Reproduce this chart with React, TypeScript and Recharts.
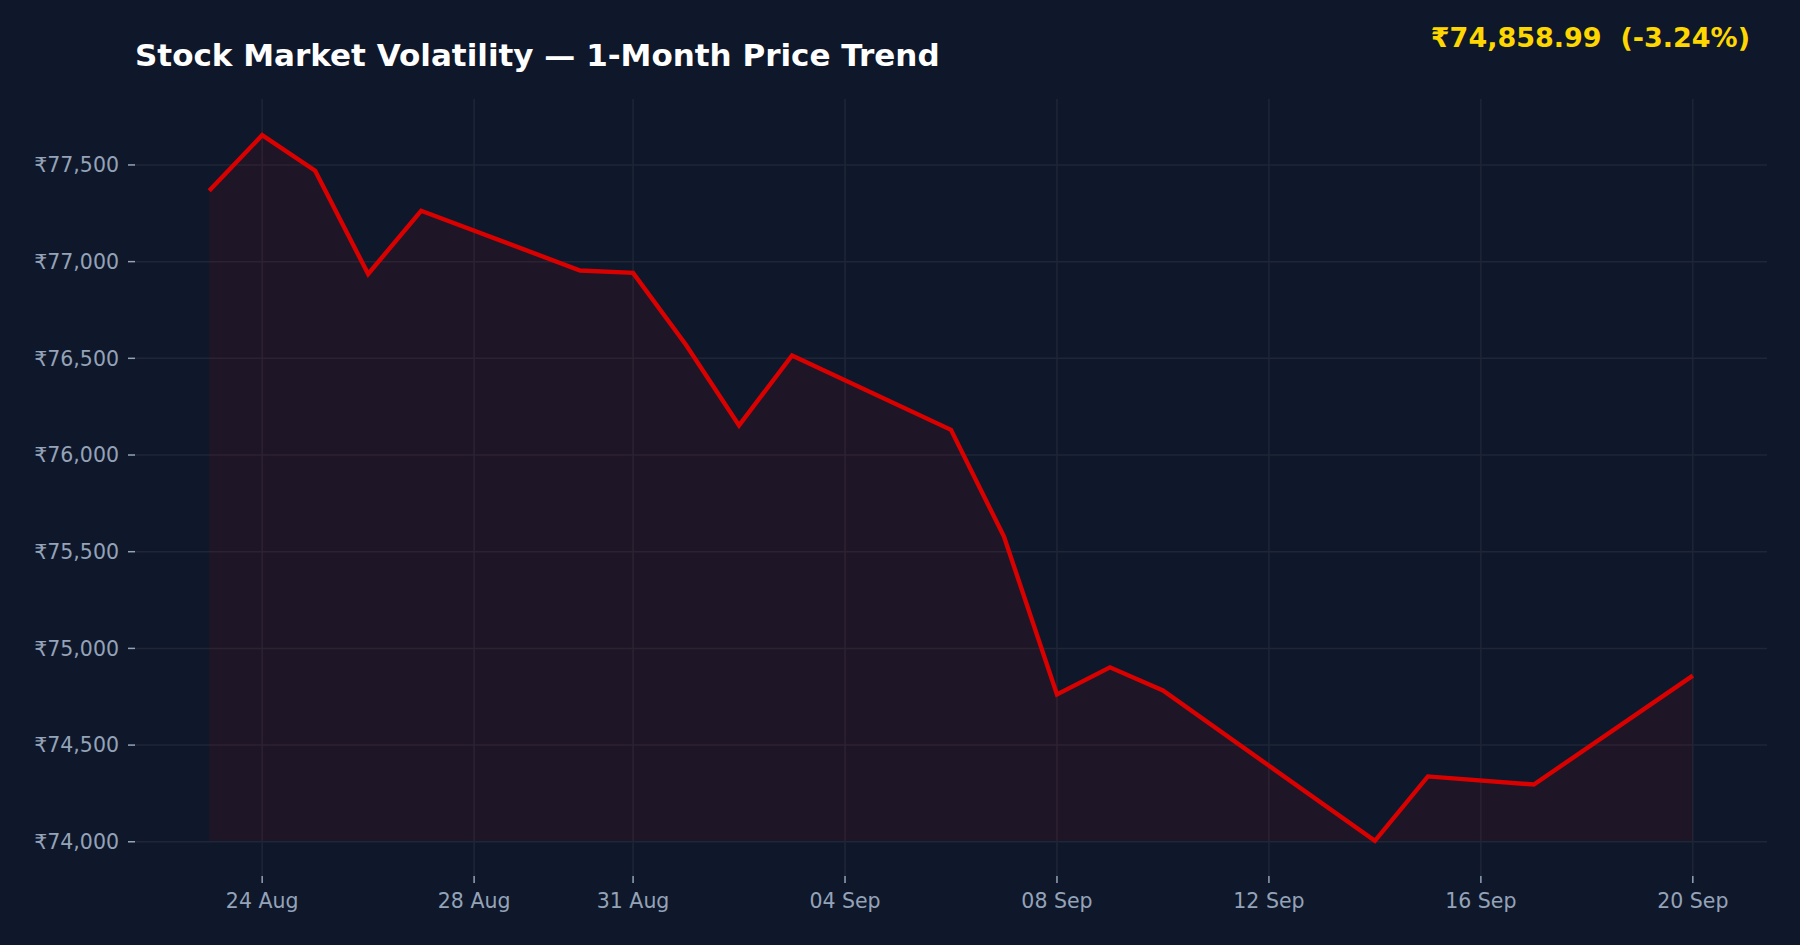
import React from "react";
import { ComposedChart, Area, XAxis, YAxis, CartesianGrid } from "recharts";

// daily closes, day offset counted from 23 Aug
const dates = [
  "23 Aug", "24 Aug", "25 Aug", "26 Aug", "27 Aug", "30 Aug", "31 Aug",
  "01 Sep", "02 Sep", "03 Sep", "06 Sep", "07 Sep", "08 Sep", "09 Sep",
  "10 Sep", "14 Sep", "15 Sep", "17 Sep", "20 Sep",
];
const dayOffsets = [0, 1, 2, 3, 4, 7, 8, 9, 10, 11, 14, 15, 16, 17, 18, 22, 23, 25, 28];
const prices = [
  77366, 77654, 77470, 76936, 77263, 76954, 76942,
  76569, 76153, 76515, 76130, 75578, 74762, 74902,
  74782, 74005, 74338, 74296, 74858.99,
];

const xTickDays = [1, 5, 8, 12, 16, 20, 24, 28];
const xTickLabels = ["24 Aug", "28 Aug", "31 Aug", "04 Sep", "08 Sep", "12 Sep", "16 Sep", "20 Sep"];
const yTicks = [74000, 74500, 75000, 75500, 76000, 76500, 77000, 77500];

const title = "Stock Market Volatility — 1-Month Price Trend";
const lastPriceLabel = "₹74,858.99  (-3.24%)";

const BG = "#0f172a";
const GRID = "#1e2637";
const TICK = "#94a3b8";
const RED = "#d90000";
const FONT = "DejaVu Sans, sans-serif";

const data = dayOffsets.map((day, i) => ({ day, date: dates[i], price: prices[i] }));
const baseline = Math.min(...prices);

export default function App() {
  const tickStyle = { fontSize: 20.5, fill: TICK, fontFamily: FONT };

  return (
    <div
      style={{
        position: "absolute",
        left: 0,
        top: 0,
        width: 1800,
        height: 945,
        background: BG,
      }}
    >
      <ComposedChart
        width={1800}
        height={945}
        data={data}
        margin={{ top: 99, right: 33, bottom: 0, left: 0 }}
      >
        <CartesianGrid
          stroke={GRID}
          strokeWidth={1.5}
          horizontalValues={yTicks}
          verticalValues={xTickDays}
        />
        <XAxis
          dataKey="day"
          type="number"
          domain={[-1.4, 29.4]}
          allowDataOverflow
          ticks={xTickDays}
          interval={0}
          tickFormatter={(d: number) => xTickLabels[xTickDays.indexOf(d)] ?? ""}
          tick={tickStyle}
          axisLine={false}
          tickLine={{ stroke: TICK, strokeWidth: 1.5 }}
          tickSize={7}
          tickMargin={10}
          height={69}
        />
        <YAxis
          type="number"
          domain={[73823, 77841]}
          allowDataOverflow
          ticks={yTicks}
          interval={0}
          tickFormatter={(v: number) => "₹" + v.toLocaleString("en-US")}
          tick={tickStyle}
          axisLine={false}
          tickLine={{ stroke: TICK, strokeWidth: 1.5 }}
          tickSize={7}
          tickMargin={9}
          width={135}
        />
        <Area
          type="linear"
          dataKey="price"
          baseValue={baseline}
          stroke={RED}
          strokeWidth={4.4}
          fill="#e00000"
          fillOpacity={0.075}
          dot={false}
          activeDot={false}
          isAnimationActive={false}
        />
      </ComposedChart>
      <svg
        width={1800}
        height={945}
        style={{ position: "absolute", left: 0, top: 0, pointerEvents: "none" }}
      >
        <text x={135} y={66} fill="#ffffff" fontFamily={FONT} fontWeight="bold" fontSize={31}>
          {title}
        </text>
        <text
          x={1750}
          y={47}
          fill="#ffd700"
          fontFamily={FONT}
          fontWeight="bold"
          fontSize={27}
          textAnchor="end"
          style={{ whiteSpace: "pre" }}
        >
          {lastPriceLabel}
        </text>
      </svg>
    </div>
  );
}
